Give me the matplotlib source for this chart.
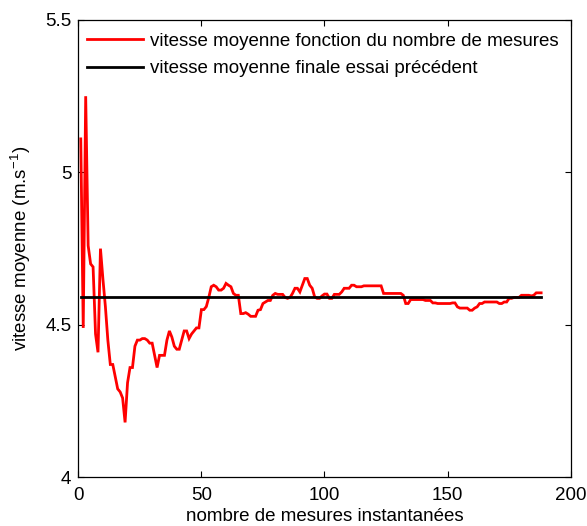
import matplotlib
matplotlib.use("Agg")
import matplotlib.pyplot as plt

plt.rcParams['font.family'] = ['Liberation Sans', 'DejaVu Sans']

# mean speed as a function of the number of measurements (measure index 1..188)
vitesse_moyenne = [
    5.11, 4.49, 5.25, 4.76, 4.70, 4.69, 4.47, 4.41, 4.75, 4.65,
    4.56, 4.45, 4.37, 4.37, 4.33, 4.29, 4.28, 4.26, 4.18, 4.31,
    4.36, 4.36, 4.43, 4.45, 4.45, 4.455, 4.455, 4.45, 4.44, 4.44,
    4.40, 4.36, 4.40, 4.40, 4.40, 4.45, 4.48, 4.46, 4.43, 4.42,
    4.42, 4.45, 4.48, 4.48, 4.455, 4.47, 4.48, 4.49, 4.49, 4.55,
    4.55, 4.56, 4.59, 4.625, 4.63, 4.625, 4.614, 4.614, 4.62, 4.636,
    4.63, 4.625, 4.603, 4.597, 4.597, 4.537, 4.537, 4.54, 4.535, 4.528,
    4.528, 4.528, 4.548, 4.55, 4.57, 4.575, 4.58, 4.58, 4.597, 4.603,
    4.60, 4.60, 4.60, 4.59, 4.587, 4.59, 4.603, 4.62, 4.62, 4.608,
    4.63, 4.652, 4.652, 4.63, 4.62, 4.592, 4.587, 4.587, 4.595, 4.601,
    4.601, 4.587, 4.587, 4.60, 4.60, 4.60, 4.608, 4.62, 4.62, 4.62,
    4.63, 4.63, 4.625, 4.625, 4.625, 4.628, 4.628, 4.628, 4.628, 4.628,
    4.628, 4.628, 4.628, 4.603, 4.603, 4.603, 4.603, 4.603, 4.603, 4.603,
    4.603, 4.597, 4.57, 4.57, 4.583, 4.583, 4.583, 4.583, 4.583, 4.583,
    4.58, 4.58, 4.58, 4.572, 4.572, 4.57, 4.57, 4.57, 4.57, 4.57,
    4.57, 4.572, 4.572, 4.559, 4.555, 4.555, 4.555, 4.555, 4.548, 4.548,
    4.555, 4.559, 4.57, 4.57, 4.575, 4.575, 4.575, 4.575, 4.575, 4.575,
    4.57, 4.57, 4.575, 4.575, 4.587, 4.587, 4.59, 4.59, 4.59, 4.597,
    4.597, 4.597, 4.597, 4.595, 4.597, 4.605, 4.605, 4.605,
]
nombre_mesures = list(range(1, len(vitesse_moyenne) + 1))

vitesse_finale_precedente = 4.59
x_reference = [1, 188]

x_ticks = [0, 50, 100, 150, 200]
y_ticks = [4, 4.5, 5, 5.5]
y_tick_labels = ['4', '4.5', '5', '5.5']

label_rouge = 'vitesse moyenne fonction du nombre de mesures'
label_noir = 'vitesse moyenne finale essai précédent'

fs = 13.5

fig = plt.figure(figsize=(5.87, 5.26), dpi=100)
ax = fig.add_axes([0.1334, 0.0926, 0.9722 - 0.1334, 0.962 - 0.0926])

ax.plot(nombre_mesures, vitesse_moyenne, color='#ff0000', lw=2.0,
        label=label_rouge, solid_joinstyle='miter')
ax.plot(x_reference, [vitesse_finale_precedente] * 2, color='black', lw=2.0,
        label=label_noir)

ax.set_xlim(0, 200)
ax.set_ylim(4, 5.5)
ax.set_xticks(x_ticks)
ax.set_xticklabels([str(t) for t in x_ticks])
ax.set_yticks(y_ticks)
ax.set_yticklabels(y_tick_labels)
ax.tick_params(direction='in', length=4, width=0.8, top=True, right=True,
               labelsize=fs)
ax.tick_params(axis='x', pad=7)
ax.tick_params(axis='y', pad=5)
for s in ax.spines.values():
    s.set_linewidth(0.9)

ax.set_xlabel('nombre de mesures instantanées', fontsize=fs, labelpad=3)
ax.set_ylabel(r'vitesse moyenne (m.s$^{\mathregular{-1}}$)', fontsize=fs, labelpad=9)

leg = ax.legend(loc='upper left', bbox_to_anchor=(0.017, 0.972), frameon=False,
                fontsize=fs, handlelength=3.0, handletextpad=0.4,
                labelspacing=0.55, borderpad=0, borderaxespad=0)

fig.savefig('out.png', dpi=100)
